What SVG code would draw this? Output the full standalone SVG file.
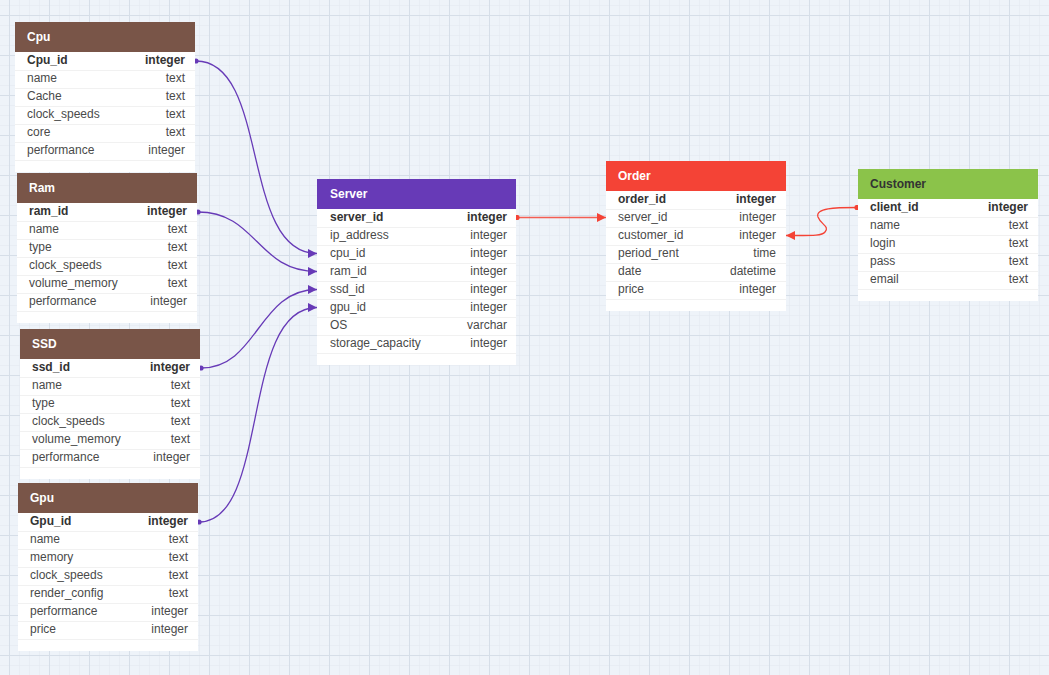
<svg xmlns="http://www.w3.org/2000/svg" width="1049" height="675" viewBox="0 0 1049 675">
<defs>
<pattern id="minor" x="9" y="5" width="10" height="10" patternUnits="userSpaceOnUse">
<path d="M0,0 H10 M0,0 V10" fill="none" stroke="#e2e8f0" stroke-width="1"/>
</pattern>
<pattern id="major" x="9" y="15" width="40" height="40" patternUnits="userSpaceOnUse">
<path d="M0,0.5 H40 M0.5,0 V40" fill="none" stroke="#d6dee8" stroke-width="1"/>
</pattern>
<marker id="arrP" viewBox="0 0 10 10" refX="10" refY="5" markerWidth="9" markerHeight="10" markerUnits="userSpaceOnUse" orient="auto">
<path d="M0,0 L10,5 L0,10 z" fill="#673ab7"/>
</marker>
<marker id="dotP" viewBox="0 0 6 6" refX="3" refY="3" markerWidth="6" markerHeight="6" markerUnits="userSpaceOnUse" orient="auto">
<circle cx="3" cy="3" r="2.6" fill="#673ab7"/>
</marker>
<marker id="arrR" viewBox="0 0 10 10" refX="10" refY="5" markerWidth="9" markerHeight="10" markerUnits="userSpaceOnUse" orient="auto">
<path d="M0,0 L10,5 L0,10 z" fill="#f44336"/>
</marker>
<marker id="dotR" viewBox="0 0 6 6" refX="3" refY="3" markerWidth="6" markerHeight="6" markerUnits="userSpaceOnUse" orient="auto">
<circle cx="3" cy="3" r="2.6" fill="#f44336"/>
</marker>
</defs>
<style>
text{font-family:"Liberation Sans",Arial,sans-serif;font-size:12px}
.body{fill:#ffffff}
.hd{font-weight:bold;fill:#ffffff}
.hdk{font-weight:bold;fill:#333333}
.k{font-weight:bold;fill:#333333}
.f{fill:#4a4a4a}
.r{text-anchor:end}
.sep{stroke:#f1f1f1;stroke-width:1}
.cp{fill:none;stroke:#673ab7;stroke-width:1.3}
.cr{fill:none;stroke:#f44336;stroke-width:1.3}
</style>
<rect width="1049" height="675" fill="#eef3f9"/>
<rect width="1049" height="675" fill="url(#minor)"/>
<rect width="1049" height="675" fill="url(#major)"/>

<g id="connectors">
<path class="cp" d="M196,61 C270,61 240,253.5 317,253.5" marker-start="url(#dotP)" marker-end="url(#arrP)"/>
<path class="cp" d="M198,212 C257,212 257,271.5 317,271.5" marker-start="url(#dotP)" marker-end="url(#arrP)"/>
<path class="cp" d="M201,368 C258,368 258,289.5 317,289.5" marker-start="url(#dotP)" marker-end="url(#arrP)"/>
<path class="cp" d="M199,522 C270,522 240,307.5 317,307.5" marker-start="url(#dotP)" marker-end="url(#arrP)"/>
<path class="cr" stroke-opacity="0.85" d="M517,217.5 L606,217.5" marker-start="url(#dotR)" marker-end="url(#arrR)"/>
<path class="cr" d="M857,207.5 C835,207.5 815,208 818,217 C821,225 830,226 825,232 C822,236 812,235.5 786,235.5" marker-start="url(#dotR)" marker-end="url(#arrR)"/>
</g>

<g id="cpu" transform="translate(15,22)">
<rect class="body" width="180" height="150"/>
<rect width="180" height="30" fill="#795548"/>
<text class="hd" x="12" y="18.5">Cpu</text>
<path class="sep" d="M0,48.5 H180 M0,66.5 H180 M0,84.5 H180 M0,102.5 H180 M0,120.5 H180 M0,138.5 H180"/>
<text class="k" x="12" y="42">Cpu_id</text><text class="k r" x="170" y="42">integer</text>
<text class="f" x="12" y="60">name</text><text class="f r" x="170" y="60">text</text>
<text class="f" x="12" y="78">Cache</text><text class="f r" x="170" y="78">text</text>
<text class="f" x="12" y="96">clock_speeds</text><text class="f r" x="170" y="96">text</text>
<text class="f" x="12" y="114">core</text><text class="f r" x="170" y="114">text</text>
<text class="f" x="12" y="132">performance</text><text class="f r" x="170" y="132">integer</text>
</g>

<g id="ram" transform="translate(17,173)">
<rect class="body" width="180" height="150"/>
<rect width="180" height="30" fill="#795548"/>
<text class="hd" x="12" y="18.5">Ram</text>
<path class="sep" d="M0,48.5 H180 M0,66.5 H180 M0,84.5 H180 M0,102.5 H180 M0,120.5 H180 M0,138.5 H180"/>
<text class="k" x="12" y="42">ram_id</text><text class="k r" x="170" y="42">integer</text>
<text class="f" x="12" y="60">name</text><text class="f r" x="170" y="60">text</text>
<text class="f" x="12" y="78">type</text><text class="f r" x="170" y="78">text</text>
<text class="f" x="12" y="96">clock_speeds</text><text class="f r" x="170" y="96">text</text>
<text class="f" x="12" y="114">volume_memory</text><text class="f r" x="170" y="114">text</text>
<text class="f" x="12" y="132">performance</text><text class="f r" x="170" y="132">integer</text>
</g>

<g id="ssd" transform="translate(20,329)">
<rect class="body" width="180" height="150"/>
<rect width="180" height="30" fill="#795548"/>
<text class="hd" x="12" y="18.5">SSD</text>
<path class="sep" d="M0,48.5 H180 M0,66.5 H180 M0,84.5 H180 M0,102.5 H180 M0,120.5 H180 M0,138.5 H180"/>
<text class="k" x="12" y="42">ssd_id</text><text class="k r" x="170" y="42">integer</text>
<text class="f" x="12" y="60">name</text><text class="f r" x="170" y="60">text</text>
<text class="f" x="12" y="78">type</text><text class="f r" x="170" y="78">text</text>
<text class="f" x="12" y="96">clock_speeds</text><text class="f r" x="170" y="96">text</text>
<text class="f" x="12" y="114">volume_memory</text><text class="f r" x="170" y="114">text</text>
<text class="f" x="12" y="132">performance</text><text class="f r" x="170" y="132">integer</text>
</g>

<g id="gpu" transform="translate(18,483)">
<rect class="body" width="180" height="168"/>
<rect width="180" height="30" fill="#795548"/>
<text class="hd" x="12" y="18.5">Gpu</text>
<path class="sep" d="M0,48.5 H180 M0,66.5 H180 M0,84.5 H180 M0,102.5 H180 M0,120.5 H180 M0,138.5 H180 M0,156.5 H180"/>
<text class="k" x="12" y="42">Gpu_id</text><text class="k r" x="170" y="42">integer</text>
<text class="f" x="12" y="60">name</text><text class="f r" x="170" y="60">text</text>
<text class="f" x="12" y="78">memory</text><text class="f r" x="170" y="78">text</text>
<text class="f" x="12" y="96">clock_speeds</text><text class="f r" x="170" y="96">text</text>
<text class="f" x="12" y="114">render_config</text><text class="f r" x="170" y="114">text</text>
<text class="f" x="12" y="132">performance</text><text class="f r" x="170" y="132">integer</text>
<text class="f" x="12" y="150">price</text><text class="f r" x="170" y="150">integer</text>
</g>

<g id="server" transform="translate(317,179)">
<rect class="body" width="199" height="186"/>
<rect width="199" height="30" fill="#673ab7"/>
<text class="hd" x="13" y="18.5">Server</text>
<path class="sep" d="M0,48.5 H199 M0,66.5 H199 M0,84.5 H199 M0,102.5 H199 M0,120.5 H199 M0,138.5 H199 M0,156.5 H199 M0,174.5 H199"/>
<text class="k" x="13" y="42">server_id</text><text class="k r" x="190" y="42">integer</text>
<text class="f" x="13" y="60">ip_address</text><text class="f r" x="190" y="60">integer</text>
<text class="f" x="13" y="78">cpu_id</text><text class="f r" x="190" y="78">integer</text>
<text class="f" x="13" y="96">ram_id</text><text class="f r" x="190" y="96">integer</text>
<text class="f" x="13" y="114">ssd_id</text><text class="f r" x="190" y="114">integer</text>
<text class="f" x="13" y="132">gpu_id</text><text class="f r" x="190" y="132">integer</text>
<text class="f" x="13" y="150">OS</text><text class="f r" x="190" y="150">varchar</text>
<text class="f" x="13" y="168">storage_capacity</text><text class="f r" x="190" y="168">integer</text>
</g>

<g id="order" transform="translate(606,161)">
<rect class="body" width="180" height="150"/>
<rect width="180" height="30" fill="#f44336"/>
<text class="hd" x="12" y="18.5">Order</text>
<path class="sep" d="M0,48.5 H180 M0,66.5 H180 M0,84.5 H180 M0,102.5 H180 M0,120.5 H180 M0,138.5 H180"/>
<text class="k" x="12" y="42">order_id</text><text class="k r" x="170" y="42">integer</text>
<text class="f" x="12" y="60">server_id</text><text class="f r" x="170" y="60">integer</text>
<text class="f" x="12" y="78">customer_id</text><text class="f r" x="170" y="78">integer</text>
<text class="f" x="12" y="96">period_rent</text><text class="f r" x="170" y="96">time</text>
<text class="f" x="12" y="114">date</text><text class="f r" x="170" y="114">datetime</text>
<text class="f" x="12" y="132">price</text><text class="f r" x="170" y="132">integer</text>
</g>

<g id="customer" transform="translate(858,169)">
<rect class="body" width="180" height="132"/>
<rect width="180" height="30" fill="#8bc34a"/>
<text class="hdk" x="12" y="18.5">Customer</text>
<path class="sep" d="M0,48.5 H180 M0,66.5 H180 M0,84.5 H180 M0,102.5 H180 M0,120.5 H180"/>
<text class="k" x="12" y="42">client_id</text><text class="k r" x="170" y="42">integer</text>
<text class="f" x="12" y="60">name</text><text class="f r" x="170" y="60">text</text>
<text class="f" x="12" y="78">login</text><text class="f r" x="170" y="78">text</text>
<text class="f" x="12" y="96">pass</text><text class="f r" x="170" y="96">text</text>
<text class="f" x="12" y="114">email</text><text class="f r" x="170" y="114">text</text>
</g>
</svg>
